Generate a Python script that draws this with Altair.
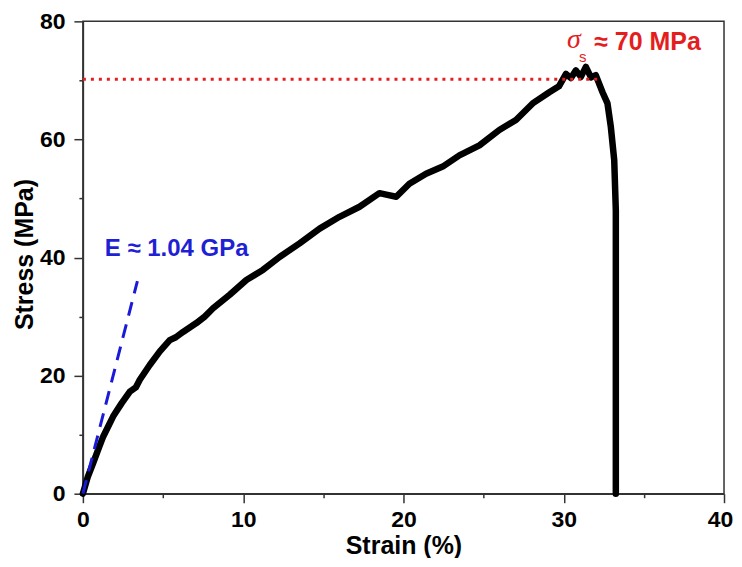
import altair as alt
import pandas as pd

# Stress-strain curve
strain = [0, 0.3, 0.64, 1.0, 1.27, 1.6, 1.89, 2.41, 2.93, 3.3, 3.55, 4.17, 4.8, 5.42, 5.8,
          6.25, 7.08, 7.6, 8.12, 9.16, 10.2, 11.23, 12.27, 13.52, 14.77, 16.01, 17.26, 18.5,
          19.0, 19.55, 20.37, 21.41, 22.45, 23.49, 24.74, 25.98, 27.02, 28.06, 29.1, 29.7,
          30.14, 30.45, 30.76, 31.07, 31.38, 31.7, 32.0, 32.42, 32.73, 32.94, 33.15, 33.25, 33.25]
stress = [0, 2.8, 5.2, 7.8, 9.7, 11.5, 13.1, 15.3, 17.3, 18.0, 19.3, 21.8, 24.1, 26.0, 26.5,
          27.4, 28.9, 30.0, 31.4, 33.7, 36.2, 37.9, 40.1, 42.4, 44.9, 46.9, 48.6, 50.9,
          50.6, 50.3, 52.5, 54.2, 55.4, 57.3, 59.0, 61.6, 63.3, 66.1, 68.0, 69.0,
          71.1, 70.4, 71.7, 70.6, 72.3, 70.5, 70.9, 68.0, 66.1, 62.1, 56.5, 48.0, 0]

# Yield-strength reference line
sigma_x = [0, 32.3]
sigma_y = [70.2, 70.2]

# Modulus slope line
mod_x = [0, 3.4]
mod_y = [0, 36.0]

x_major = [0, 10, 20, 30, 40]
x_minor = [5, 15, 25, 35]
y_major = [0, 20, 40, 60, 80]
y_minor = [10, 30, 50, 70]

curve = pd.DataFrame({"strain": strain, "stress": stress, "i": list(range(len(strain)))})
sig = pd.DataFrame({"strain": sigma_x, "stress": sigma_y})
mod = pd.DataFrame({"strain": mod_x, "stress": mod_y})

xs = alt.Scale(domain=[0, 40], nice=False, zero=False)
ys = alt.Scale(domain=[0, 80], nice=False, zero=False)

FONT = "Liberation Sans"

x_main = alt.X("strain:Q", scale=xs, title="Strain (%)",
               axis=alt.Axis(values=x_major, orient="bottom", tickSize=9, labelPadding=6,
                             grid=False, titleX=321, titleY=52, titleBaseline="middle",
                             labelFlush=False,
                             labelOffset=alt.ExprRef(expr="datum.value == 40 ? -4 : 0")))
y_main = alt.Y("stress:Q", scale=ys, title="Stress (MPa)",
               axis=alt.Axis(values=y_major, orient="left", tickSize=9, labelPadding=9,
                             grid=False, titleX=-58, titleY=233, titleBaseline="middle",
                             labelFlush=False))

line = alt.Chart(curve).mark_line(color="black", strokeWidth=6.5, strokeJoin="round",
                                  strokeCap="round").encode(
    x=x_main, y=y_main, order="i:Q")

minor = alt.Chart(curve).mark_point(opacity=0).encode(
    x=alt.X("strain:Q", scale=xs, title=None,
            axis=alt.Axis(values=x_minor, orient="bottom", tickSize=4, labels=False,
                          domain=False, grid=False)),
    y=alt.Y("stress:Q", scale=ys, title=None,
            axis=alt.Axis(values=y_minor, orient="left", tickSize=4, labels=False,
                          domain=False, grid=False)),
)

sig_line = alt.Chart(sig).mark_line(color="#e41e1e", strokeWidth=3, strokeDash=[3, 5]).encode(
    x=alt.X("strain:Q", scale=xs, axis=None), y=alt.Y("stress:Q", scale=ys, axis=None))

mod_line = alt.Chart(mod).mark_line(color="#1a1ad8", strokeWidth=3, strokeDash=[14, 9]).encode(
    x=alt.X("strain:Q", scale=xs, axis=None), y=alt.Y("stress:Q", scale=ys, axis=None))


def label(x, y, t, **kw):
    return alt.Chart(pd.DataFrame({"strain": [x], "stress": [y], "t": [t]})).mark_text(
        align="left", baseline="middle", **kw
    ).encode(x=alt.X("strain:Q", scale=xs, axis=None),
             y=alt.Y("stress:Q", scale=ys, axis=None), text="t:N")


e_txt = label(1.37, 41.4, "E ≈ 1.04 GPa", font=FONT, fontWeight="bold", fontSize=24,
              color="#1f1fd6")
sigma_txt = label(30.2, 76.8, "σ", font="Liberation Serif", fontStyle="italic", fontSize=28,
                  color="#e41e1e")
sub_txt = label(30.95, 73.9, "s", font=FONT, fontSize=15, color="#e41e1e")
val_txt = label(31.9, 76.5, "≈ 70 MPa", font=FONT, fontWeight="bold", fontSize=25,
                color="#e41e1e")

chart = alt.layer(line, minor, sig_line, mod_line, e_txt, sigma_txt, sub_txt, val_txt).resolve_axis(
    x="independent", y="independent"
).properties(
    width=642, height=473,
    autosize=alt.AutoSizeParams(type="none"),
    padding={"left": 75, "top": 13, "right": 10, "bottom": 64},
).configure_view(
    stroke="#333333", strokeWidth=1.5
).configure_axis(
    domainColor="#333333", domainWidth=1.5, tickColor="#333333", tickWidth=1.5,
    labelFont=FONT, labelFontWeight="bold", labelFontSize=23, labelColor="black",
    titleFont=FONT, titleFontWeight="bold", titleFontSize=25, titleColor="black",
)

chart.save("out.html", embed_options={"renderer": "svg", "actions": False})
